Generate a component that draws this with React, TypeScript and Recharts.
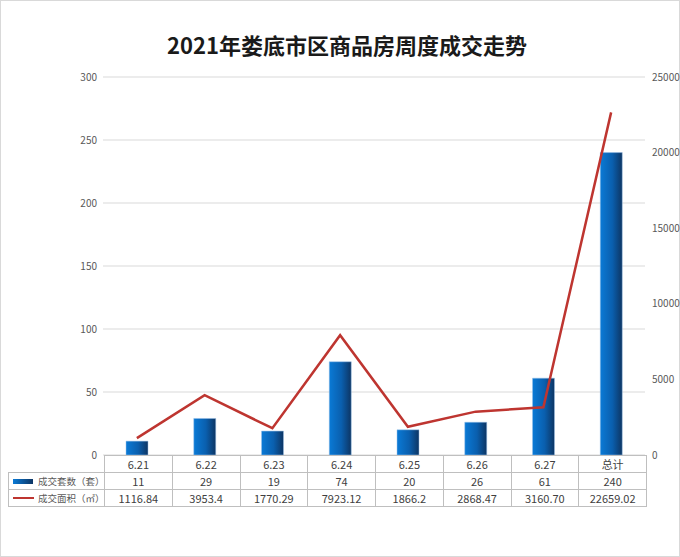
import React from "react";
import { ComposedChart, Bar, Line, XAxis, YAxis, CartesianGrid } from "recharts";

const weeks = ["6.21", "6.22", "6.23", "6.24", "6.25", "6.26", "6.27", "总计"];
const units = [11, 29, 19, 74, 20, 26, 61, 240];
const areas = [1116.84, 3953.4, 1770.29, 7923.12, 1866.2, 2868.47, 3160.7, 22659.02];
const areaLabels = ["1116.84", "3953.4", "1770.29", "7923.12", "1866.2", "2868.47", "3160.70", "22659.02"];
const leftTicks = [0, 50, 100, 150, 200, 250, 300];
const rightTicks = [0, 5000, 10000, 15000, 20000, 25000];

const data = weeks.map((w, i) => ({ week: w, units: units[i], area: areas[i] }));

const FONT = "'Noto Sans CJK SC', 'Noto Sans', sans-serif";
const BORDER = "1px solid #bfbfbf";
const PLOT_LEFT = 103;
const PLOT_RIGHT = 645;
const TABLE_LEFT = 7;
const COL = (PLOT_RIGHT - PLOT_LEFT) / weeks.length;

export default function App() {
  const cell: React.CSSProperties = { border: BORDER, textAlign: "center", padding: 0, overflow: "hidden", whiteSpace: "nowrap" };
  const labelCell: React.CSSProperties = { border: BORDER, padding: 0, whiteSpace: "nowrap", overflow: "hidden", fontSize: 9.5, color: "#595959" };
  return (
    <div style={{ position: "absolute", left: 0, top: 0, width: 680, height: 557, background: "#fff", fontFamily: FONT, boxSizing: "border-box", border: "1px solid #d9d9d9" }}>
      <div style={{ position: "absolute", left: 6, top: 27, width: 680, textAlign: "center", fontSize: 22, fontWeight: 700, color: "#1a1a1a" }}>
        2021年娄底市区商品房周度成交走势
      </div>
      <div style={{ position: "absolute", left: -1, top: -1 }}>
        <ComposedChart width={680} height={557} data={data} margin={{ top: 77, right: 0, bottom: 102, left: 0 }}>
          <defs>
            <linearGradient id="barGrad" x1="0" y1="0" x2="1" y2="0">
              <stop offset="0%" stopColor="#0a7ad6" />
              <stop offset="55%" stopColor="#0a5fae" />
              <stop offset="100%" stopColor="#0d3563" />
            </linearGradient>
          </defs>
          <CartesianGrid vertical={false} stroke="#d9d9d9" yAxisId="left" />
          <XAxis dataKey="week" hide />
          <YAxis
            yAxisId="left"
            width={PLOT_LEFT}
            domain={[0, 300]}
            ticks={leftTicks}
            axisLine={false}
            tickLine={false}
            tickSize={0}
            tickMargin={6}
            tick={{ fill: "#595959", fontSize: 10, fontFamily: FONT }}
          />
          <YAxis
            yAxisId="right"
            orientation="right"
            width={680 - PLOT_RIGHT}
            domain={[0, 25000]}
            ticks={rightTicks}
            axisLine={false}
            tickLine={false}
            tickSize={0}
            tickMargin={7}
            tick={{ fill: "#595959", fontSize: 10, fontFamily: FONT }}
          />
          <Bar yAxisId="left" dataKey="units" barSize={22} fill="url(#barGrad)" stroke="#9cc3e8" strokeWidth={0.5} isAnimationActive={false} />
          <Line yAxisId="right" dataKey="area" type="linear" stroke="#be3530" strokeWidth={2.5} dot={false} isAnimationActive={false} />
        </ComposedChart>
      </div>
      <table style={{ position: "absolute", left: TABLE_LEFT, top: 454, width: PLOT_RIGHT - TABLE_LEFT, borderCollapse: "collapse", fontSize: 11, color: "#404040", tableLayout: "fixed", fontFamily: FONT }}>
        <colgroup>
          <col style={{ width: PLOT_LEFT - TABLE_LEFT }} />
          {weeks.map((w) => (
            <col key={w} style={{ width: COL }} />
          ))}
        </colgroup>
        <tbody>
          <tr style={{ height: 15 }}>
            <td style={{ padding: 0 }} />
            {weeks.map((w) => (
              <td key={w} style={cell}>{w}</td>
            ))}
          </tr>
          <tr style={{ height: 15 }}>
            <td style={labelCell}>
              <span style={{ display: "inline-block", width: 20, height: 5, margin: "0 5px 1px 4px", background: "linear-gradient(90deg,#0a7ad6,#0d3563)", verticalAlign: "middle" }} />
              成交套数（套）
            </td>
            {units.map((u, i) => (
              <td key={i} style={cell}>{u}</td>
            ))}
          </tr>
          <tr style={{ height: 14 }}>
            <td style={labelCell}>
              <span style={{ display: "inline-block", width: 21, height: 2, margin: "0 4px 2px 4px", background: "#be3530", verticalAlign: "middle" }} />
              成交面积（㎡）
            </td>
            {areaLabels.map((a, i) => (
              <td key={i} style={cell}>{a}</td>
            ))}
          </tr>
        </tbody>
      </table>
    </div>
  );
}
